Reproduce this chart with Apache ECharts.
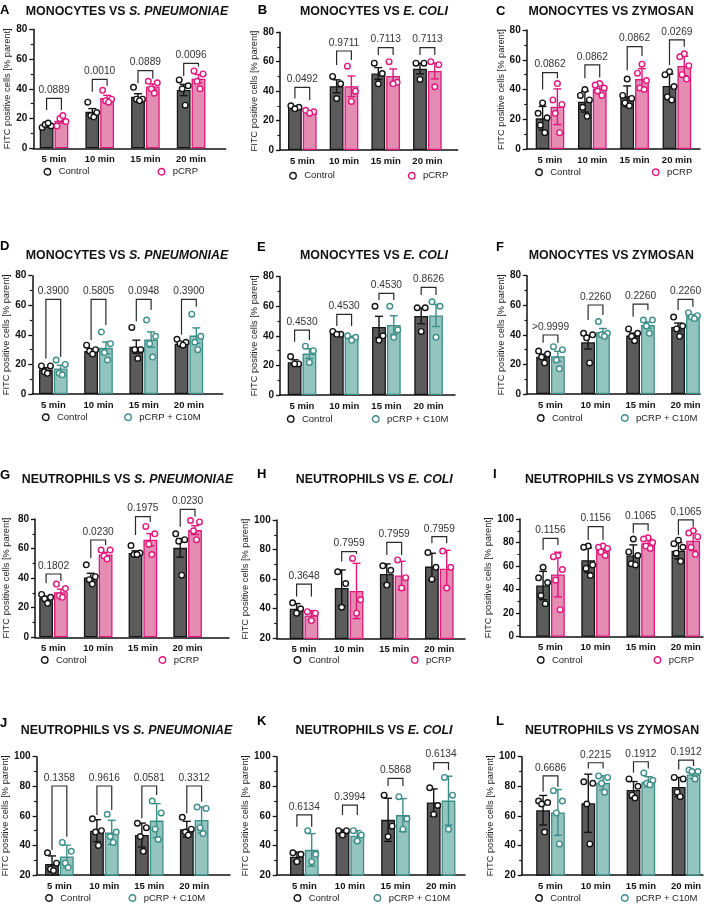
<!DOCTYPE html>
<html><head><meta charset="utf-8">
<script src="https://cdn.jsdelivr.net/npm/echarts@6/dist/echarts.min.js"></script>
<style>html,body{margin:0;padding:0;background:#fff;}#c{width:709px;height:908px;}</style>
</head><body><div id="c"></div>
<script>
const categories = ['5 min', '10 min', '15 min', '20 min'];

// ---- Panel A: Monocytes vs S. pneumoniae (pCRP) ----
const aCtrlPts = [[14,15,16,17],[31,24,22,21],[41,33,33,32],[46,42,40,29]];
const aCtrlMean = [15.2, 24.5, 34.7, 39.2];
const aCtrlErr = [0.8, 2.2, 2.0, 3.8];
const aTrtPts = [[15,18,20,22],[39,33,32,31],[45,44,40,37],[52,50,45,40]];
const aTrtMean = [18.5, 33.8, 41.5, 46.8];
const aTrtErr = [1.5, 1.8, 1.8, 2.8];
const aP = ['0.0889','0.0010','0.0889','0.0096'];
const aBrTop = [33.6, 46.4, 52.2, 57.1];
const aBrLeft = [25.8, 38, 43.7, 48.6];
const aBrRight = [25.8, 42, 47, 55];

// ---- Panel B: Monocytes vs E. coli (pCRP) ----
const bCtrlPts = [[30,29,28],[50,45,35],[59,52,45],[59,59,48]];
const bCtrlMean = [29, 43.3, 52, 55.3];
const bCtrlErr = [0.6, 4.4, 4.0, 3.6];
const bTrtPts = [[27,26,25],[57,40,33],[60,46,45],[60,58,43]];
const bTrtMean = [26, 43.3, 50.3, 53.7];
const bTrtErr = [0.6, 7, 4.8, 5.4];
const bP = ['0.0492','0.9711','0.7113','0.7113'];
const bBrTop = [42.6, 67.3, 69.6, 69.6];
const bBrLeft = [35, 57.8, 64.6, 64.6];
const bBrRight = [34, 61.2, 64.6, 64.6];

// ---- Panel C: Monocytes vs Zymosan (pCRP) ----
const cCtrlPts = [[31,24,21,16,11],[40,36,33,28,22],[47,36,34,31,29],[52,50,42,35,33]];
const cCtrlMean = [20.6, 31.8, 35.4, 42.4];
const cCtrlErr = [8, 7, 7, 8];
const cTrtPts = [[44,33,30,24,11],[44,43,41,39,36],[57,51,46,41,40],[64,62,56,50,47]];
const cTrtMean = [28.4, 40.6, 47, 55.8];
const cTrtErr = [12, 3, 7, 6.5];
const cP = ['0.0862','0.0862','0.0862','0.0269'];
const cBrTop = [51.3, 56.5, 68.8, 73.3];
const cBrLeft = [40, 47.5, 53, 56.5];
const cBrRight = [47.5, 48, 62.5, 68.8];

// ---- Panel D: Monocytes vs S. pneumoniae (pCRP + C10M) ----
const dCtrlPts = [[19,19,15,14],[33,30,29,27],[45,30,30,24],[37,35,34,33]];
const dCtrlMean = [16.5, 29, 32, 34];
const dCtrlErr = [1.3, 1.3, 4.4, 0.9];
const dTrtPts = [[23,20,14,13],[42,34,28,23],[50,39,34,25],[54,39,35,30]];
const dTrtMean = [17.2, 31.2, 36.8, 39.5];
const dTrtErr = [2.3, 4, 5.2, 5.2];
const dP = ['0.3900','0.5805','0.0948','0.3900'];
const dBrTop = [64, 64, 64, 64];
const dBrLeft = [24, 36.5, 49, 40];
const dBrRight = [25, 46.6, 56.8, 59];

// ---- Panel E: Monocytes vs E. coli (pCRP + C10M) ----
const eCtrlPts = [[26,21,21],[43,41,41],[60,40,37],[59,59,43]];
const eCtrlMean = [22.2, 41.5, 46, 53.5];
const eCtrlErr = [1.6, 0.7, 7.2, 5.3];
const eTrtPts = [[33,30,22],[40,39,37],[60,44,39],[63,60,39]];
const eTrtMean = [28, 38.8, 47.3, 53.8];
const eTrtErr = [3.3, 0.9, 6.3, 7.5];
const eP = ['0.4530','0.4530','0.4530','0.8626'];
const eBrTop = [43.9, 54.5, 68.7, 72.8];
const eBrLeft = [36, 46.6, 64.2, 67.6];
const eBrRight = [37.2, 46.6, 64.2, 67.6];

// ---- Panel F: Monocytes vs Zymosan (pCRP + C10M) ----
const fCtrlPts = [[29,27,25,21],[41,40,38,21],[44,41,39,36],[52,46,44,39]];
const fCtrlMean = [25.2, 35, 39.5, 45.3];
const fCtrlErr = [1.7, 4.6, 1.7, 2.7];
const fTrtPts = [[32,30,23,17],[49,41,40,39],[50,50,46,41],[55,53,52,51]];
const fTrtMean = [25.5, 42, 46.6, 52.5];
const fTrtErr = [3.4, 2.3, 2.1, 0.9];
const fP = ['>0.9999','0.2260','0.2260','0.2260'];
const fBrTop = [39.9, 60.2, 60.8, 64];
const fBrLeft = [34.7, 50, 52.3, 56.8];
const fBrRight = [34.7, 53.4, 56.8, 59];

// ---- Panel G: Neutrophils vs S. pneumoniae (pCRP) ----
const gCtrlPts = [[29,27,26,23],[49,41,39,36],[62,57,56,56],[70,66,65,42]];
const gCtrlMean = [26.5, 40.5, 57, 60.5];
const gCtrlErr = [1.2, 2.8, 1.5, 6.3];
const gTrtPts = [[36,33,28,27],[59,59,55,53],[75,70,63,56],[79,78,72,66]];
const gTrtMean = [30.5, 56, 66, 72.5];
const gTrtErr = [2.1, 1.5, 4.1, 3];
const gP = ['0.1802','0.0230','0.1975','0.0230'];
const gBrTop = [42.8, 65.8, 81.6, 86.5];
const gBrLeft = [36.5, 53.4, 69.2, 74.8];
const gBrRight = [38, 62.4, 78.2, 81.6];

// ---- Panel H: Neutrophils vs E. coli (pCRP) ----
const hCtrlPts = [[44,40,37],[65,57,41],[69,66,56],[78,68,60]];
const hCtrlMean = [40, 54, 63.5, 68.5];
const hCtrlErr = [3.5, 12.2, 6.8, 9];
const hTrtPts = [[38,37,32],[74,46,37],[73,61,54],[79,68,54]];
const hTrtMean = [35.5, 52, 62.5, 67];
const hTrtErr = [3.2, 18.7, 9.6, 12.5];
const hP = ['0.3648','0.7959','0.7959','0.7959'];
const hBrTop = [56.7, 78.6, 84.9, 88.7];
const hBrLeft = [48.2, 72, 76.3, 84.2];
const hBrRight = [48.2, 77, 76.3, 84.2];

// ---- Panel I: Neutrophils vs Zymosan (pCRP) ----
const iCtrlPts = [[59,50,46,35,28],[77,76,61,58,52],[83,72,69,62,61],[82,79,76,71,64]];
const iCtrlMean = [43.5, 65, 69, 73];
const iCtrlErr = [12, 10.5, 9, 7];
const iTrtPts = [[69,68,57,48,23],[77,76,75,72,69],[84,83,80,77,75],[90,88,85,76,70]];
const iTrtMean = [52.8, 73.8, 79.5, 81.5];
const iTrtErr = [19, 3, 3.8, 8.3];
const iP = ['0.1156','0.1156','0.1065','0.1065'];
const iBrTop = [83.6, 93.5, 95.8, 99.2];
const iBrLeft = [73.7, 82.2, 87.8, 86.4];
const iBrRight = [77.9, 82.2, 90, 93.5];

// ---- Panel J: Neutrophils vs S. pneumoniae (pCRP + C10M) ----
const jCtrlPts = [[35,28,24,23],[58,50,49,40],[55,52,46,36],[59,51,49,47]];
const jCtrlMean = [27.5, 50, 47, 51];
const jCtrlErr = [5.4, 7.4, 8.1, 5.3];
const jTrtPts = [[42,36,28,25],[61,49,46,42],[70,62,51,44],[66,65,52,48]];
const jTrtMean = [32.5, 48.8, 56.8, 57.2];
const jTrtErr = [7.7, 8.2, 11.5, 8.8];
const jP = ['0.1358','0.9616','0.0581','0.3312'];
const jBrTop = [80.2, 80.2, 80.2, 80.2];
const jBrLeft = [36.9, 60.6, 58.3, 61.7];
const jBrRight = [45.9, 63.9, 74.1, 69.6];

// ---- Panel K: Neutrophils vs E. coli (pCRP + C10M) ----
const kCtrlPts = [[35,34,29],[50,50,47],[74,53,46],[79,67,61]];
const kCtrlMean = [32.3, 48.8, 57.3, 69];
const kCtrlErr = [3.2, 1.7, 14.6, 9.2];
const kTrtPts = [[50,34,29],[50,47,43],[73,58,51],[86,74,51]];
const kTrtMean = [37, 46.5, 60.5, 70.3];
const kTrtErr = [11, 3.5, 11.2, 16.5];
const kP = ['0.6134','0.3994','0.5868','0.6134'];
const kBrTop = [60.6, 67.3, 85.4, 96];
const kBrLeft = [52.7, 60.6, 80.2, 91];
const kBrRight = [52.7, 60.6, 80.2, 91];

// ---- Panel L: Neutrophils vs Zymosan (pCRP + C10M) ----
const lCtrlPts = [[70,69,68,49],[83,82,68,41],[85,80,74,72],[86,85,76,73]];
const lCtrlMean = [63.8, 68.5, 77.5, 79.5];
const lCtrlErr = [10, 19.7, 5.7, 6.5];
const lTrtPts = [[77,70,62,41],[87,86,82,76],[89,84,82,81],[91,90,90,85]];
const lTrtMean = [62.3, 82.3, 83, 88];
const lTrtErr = [15.5, 4.8, 3.5, 2.8];
const lP = ['0.6686','0.2215','0.1912','0.1912'];
const lBrTop = [87, 95.9, 96.6, 97.7];
const lBrLeft = [76.3, 92.1, 89.2, 91.4];
const lBrRight = [79.7, 92.1, 92.1, 93.7];

// axis ranges
const yMins = [0, 0, 0, 0, 0, 0, 0, 20, 0, 20, 20, 20];
const yMaxs = [80, 80, 80, 80, 80, 80, 80, 100, 100, 100, 100, 100];

const FONT = "'Liberation Sans', Arial, Helvetica, sans-serif";
const CTRL_FILL = '#5b5b5b', CTRL_LINE = '#141414';
const PINK_FILL = '#e48cb1', PINK_LINE = '#e2167c';
const TEAL_FILL = '#94c4be', TEAL_LINE = '#3d8d88';

const panels = [
  {id:'A', cell:'MONOCYTES', ital:'S. PNEUMONIAE', plain:'', trt:'pCRP', cp:aCtrlPts, cm:aCtrlMean, ce:aCtrlErr, tp:aTrtPts, tm:aTrtMean, te:aTrtErr, p:aP, bt:aBrTop, bl:aBrLeft, br:aBrRight},
  {id:'B', cell:'MONOCYTES', ital:'E. COLI', plain:'', trt:'pCRP', cp:bCtrlPts, cm:bCtrlMean, ce:bCtrlErr, tp:bTrtPts, tm:bTrtMean, te:bTrtErr, p:bP, bt:bBrTop, bl:bBrLeft, br:bBrRight},
  {id:'C', cell:'MONOCYTES', ital:'', plain:'ZYMOSAN', trt:'pCRP', cp:cCtrlPts, cm:cCtrlMean, ce:cCtrlErr, tp:cTrtPts, tm:cTrtMean, te:cTrtErr, p:cP, bt:cBrTop, bl:cBrLeft, br:cBrRight},
  {id:'D', cell:'MONOCYTES', ital:'S. PNEUMONIAE', plain:'', trt:'pCRP + C10M', cp:dCtrlPts, cm:dCtrlMean, ce:dCtrlErr, tp:dTrtPts, tm:dTrtMean, te:dTrtErr, p:dP, bt:dBrTop, bl:dBrLeft, br:dBrRight},
  {id:'E', cell:'MONOCYTES', ital:'E. COLI', plain:'', trt:'pCRP + C10M', cp:eCtrlPts, cm:eCtrlMean, ce:eCtrlErr, tp:eTrtPts, tm:eTrtMean, te:eTrtErr, p:eP, bt:eBrTop, bl:eBrLeft, br:eBrRight},
  {id:'F', cell:'MONOCYTES', ital:'', plain:'ZYMOSAN', trt:'pCRP + C10M', cp:fCtrlPts, cm:fCtrlMean, ce:fCtrlErr, tp:fTrtPts, tm:fTrtMean, te:fTrtErr, p:fP, bt:fBrTop, bl:fBrLeft, br:fBrRight},
  {id:'G', cell:'NEUTROPHILS', ital:'S. PNEUMONIAE', plain:'', trt:'pCRP', cp:gCtrlPts, cm:gCtrlMean, ce:gCtrlErr, tp:gTrtPts, tm:gTrtMean, te:gTrtErr, p:gP, bt:gBrTop, bl:gBrLeft, br:gBrRight},
  {id:'H', cell:'NEUTROPHILS', ital:'E. COLI', plain:'', trt:'pCRP', cp:hCtrlPts, cm:hCtrlMean, ce:hCtrlErr, tp:hTrtPts, tm:hTrtMean, te:hTrtErr, p:hP, bt:hBrTop, bl:hBrLeft, br:hBrRight},
  {id:'I', cell:'NEUTROPHILS', ital:'', plain:'ZYMOSAN', trt:'pCRP', cp:iCtrlPts, cm:iCtrlMean, ce:iCtrlErr, tp:iTrtPts, tm:iTrtMean, te:iTrtErr, p:iP, bt:iBrTop, bl:iBrLeft, br:iBrRight},
  {id:'J', cell:'NEUTROPHILS', ital:'S. PNEUMONIAE', plain:'', trt:'pCRP + C10M', cp:jCtrlPts, cm:jCtrlMean, ce:jCtrlErr, tp:jTrtPts, tm:jTrtMean, te:jTrtErr, p:jP, bt:jBrTop, bl:jBrLeft, br:jBrRight},
  {id:'K', cell:'NEUTROPHILS', ital:'E. COLI', plain:'', trt:'pCRP + C10M', cp:kCtrlPts, cm:kCtrlMean, ce:kCtrlErr, tp:kTrtPts, tm:kTrtMean, te:kTrtErr, p:kP, bt:kBrTop, bl:kBrLeft, br:kBrRight},
  {id:'L', cell:'NEUTROPHILS', ital:'', plain:'ZYMOSAN', trt:'pCRP + C10M', cp:lCtrlPts, cm:lCtrlMean, ce:lCtrlErr, tp:lTrtPts, tm:lTrtMean, te:lTrtErr, p:lP, bt:lBrTop, bl:lBrLeft, br:lBrRight}
];

// layout (pixels): axis extents, first-group centre, group spacing, label/legend spots
const layout = {
  A:{axL:33.3, axR:225.7, c0:54,    sp:45.7, yT:29.3,  yB:148.3, gap:21,   tx:127,   ty:13.3,  lx:4,     ly:12,    legY:172.7, legC:46.7,  legT:160.7},
  B:{axL:280,  axR:457.7, c0:302.3, sp:41.7, yT:32.3,  yB:150,   gap:17,   tx:374,   ty:12.7,  lx:261.7, ly:12,    legY:176.7, legC:292.3, legT:411},
  C:{axL:526.7,axR:700,   c0:550,   sp:42.3, yT:30,    yB:149,   gap:19,   tx:611,   ty:13.3,  lx:500,   ly:13,    legY:173.3, legC:538.3, legT:655},
  D:{axL:32.3, axR:222.7, c0:53.3,  sp:45.2, yT:275.7, yB:394,   gap:21,   tx:127,   ty:256.7, lx:4,     ly:248,   legY:418.3, legC:45,    legT:127.3},
  E:{axL:280,  axR:455,   c0:302,   sp:42.2, yT:276.7, yB:395,   gap:17,   tx:374,   ty:256.7, lx:261,   ly:249,   legY:420,   legC:290,   legT:375},
  F:{axL:527,  axR:700,   c0:550.5, sp:45,   yT:275.7, yB:394,   gap:19,   tx:611.3, ty:256.7, lx:500,   ly:249,   legY:419,   legC:540,   legT:624},
  G:{axL:35,   axR:229,   c0:53.5,  sp:44.7, yT:519,   yB:637.3, gap:24.5, tx:127.5, ty:480.7, lx:4,     ly:476.7, legY:661,   legC:44,    legT:161.7},
  H:{axL:276.7,axR:465,   c0:304,   sp:45.1, yT:520,   yB:638.3, gap:18,   tx:374.3, ty:480.7, lx:261,   ly:476,   legY:661,   legC:296.7, legT:414},
  I:{axL:520,  axR:703,   c0:550.5, sp:45.1, yT:519,   yB:636.7, gap:16.5, tx:612,   ty:480.7, lx:497,   ly:476,   legY:661,   legC:540,   legT:656.7},
  J:{axL:35,   axR:230,   c0:58,    sp:45.3, yT:756.7, yB:875,   gap:24.5, tx:126.5, ty:731.7, lx:4,     ly:725,   legY:899,   legC:48.3,  legT:131.7},
  K:{axL:276.7,axR:465,   c0:304.3, sp:45.6, yT:756.7, yB:875,   gap:18.5, tx:374,   ty:731.7, lx:261,   ly:723,   legY:899,   legC:296.7, legT:376.7},
  L:{axL:521.7,axR:703,   c0:550.5, sp:45.2, yT:756.7, yB:875,   gap:19,   tx:612,   ty:731.7, lx:500,   ly:723,   legY:899,   legC:538.3, legT:624}
};

const BW = 13.8, GAP = 1;
const OFF = (BW + GAP) / 2;
const JIT = {3:[-4,4,0], 4:[-4.5,4.5,-1.5,1.5], 5:[0,-4.5,4.5,-2.2,2.2]};

function errRender(off, color) {
  return function (params, api) {
    const x = api.value(0), m = api.value(1), e = api.value(2);
    const c = api.coord([x, m]);
    const t = api.coord([x, m + e]);
    const b = api.coord([x, m - e]);
    const cx = c[0] + off, cap = 4;
    const st = () => ({stroke: color, lineWidth: 1.4});
    return {type:'group', children:[
      {type:'line', shape:{x1:cx, y1:t[1], x2:cx, y2:b[1]}, style:st()},
      {type:'line', shape:{x1:cx-cap, y1:t[1], x2:cx+cap, y2:t[1]}, style:st()},
      {type:'line', shape:{x1:cx-cap, y1:b[1], x2:cx+cap, y2:b[1]}, style:st()}
    ]};
  };
}
function ptsRender(off, color) {
  return function (params, api) {
    const x = api.value(0), v = api.value(1), j = api.value(2), n = api.value(3);
    const c = api.coord([x, v]);
    return {type:'circle', shape:{cx:c[0] + off + JIT[n][j], cy:c[1], r:2.8},
      style:{fill:'#fff', stroke:color, lineWidth:1.4}};
  };
}
function brRender(labels) {
  return function (params, api) {
    const x = api.value(0);
    const t = api.coord([x, api.value(1)]);
    const l = api.coord([x, api.value(2)]);
    const r = api.coord([x, api.value(3)]);
    const xl = t[0] - OFF, xr = t[0] + OFF;
    return {type:'group', children:[
      {type:'polyline', shape:{points:[[xl, l[1]], [xl, t[1]], [xr, t[1]], [xr, r[1]]]},
        style:{stroke:'#2a2a2a', lineWidth:1.2, fill:null}},
      {type:'text', style:{text:labels[params.dataIndex], x:t[0], y:t[1] - 3, align:'center',
        verticalAlign:'bottom', fontSize:10.2, fontFamily:FONT, fill:'#333'}}
    ]};
  };
}

const grid = [], xAxis = [], yAxis = [], series = [], title = [], legend = [];
panels.forEach((p, i) => {
  const L = layout[p.id];
  const teal = p.trt !== 'pCRP';
  const tFill = teal ? TEAL_FILL : PINK_FILL, tLine = teal ? TEAL_LINE : PINK_LINE;
  grid.push({left:L.axL, top:L.yT, width:L.axR - L.axL, height:L.yB - L.yT});
  xAxis.push({type:'value', gridIndex:i, min:(L.axL - L.c0) / L.sp, max:(L.axR - L.c0) / L.sp,
    axisLine:{show:true, onZero:false, lineStyle:{color:'#111', width:1.5}},
    axisTick:{show:false}, splitLine:{show:false},
    axisLabel:{customValues:[0,1,2,3], margin:6, fontSize:9.5, fontWeight:'bold', color:'#111', fontFamily:FONT,
      formatter:(v) => (Math.abs(v - Math.round(v)) < 1e-6 && categories[Math.round(v)]) || ''}});
  yAxis.push({type:'value', gridIndex:i, min:yMins[i], max:yMaxs[i], interval:20,
    axisLine:{show:true, onZero:false, lineStyle:{color:'#111', width:1.5}},
    axisTick:{show:true, length:4, lineStyle:{color:'#111', width:1.3}},
    minorTick:{show:true, splitNumber:2, length:2.5, lineStyle:{color:'#111', width:1.2}},
    splitLine:{show:false}, minorSplitLine:{show:false},
    axisLabel:{margin:6, fontSize:10, fontWeight:'bold', color:'#111', fontFamily:FONT},
    name:'FITC positive cells [% parent]', nameLocation:'middle', nameGap:L.gap,
    nameTextStyle:{fontSize:9.3, color:'#222', fontFamily:FONT}});

  series.push({type:'bar', name:'Control', xAxisIndex:i, yAxisIndex:i, barWidth:BW, barGap:(GAP / BW * 100) + '%',
    data:p.cm.map((v, k) => [k, v]), itemStyle:{color:CTRL_FILL, borderColor:CTRL_LINE, borderWidth:1.3}, z:2, silent:true});
  series.push({type:'bar', name:p.trt, xAxisIndex:i, yAxisIndex:i, barWidth:BW, barGap:(GAP / BW * 100) + '%',
    data:p.tm.map((v, k) => [k, v]), itemStyle:{color:tFill, borderColor:tLine, borderWidth:1.3}, z:2, silent:true});
  series.push({type:'custom', name:'err-c' + i, xAxisIndex:i, yAxisIndex:i, clip:false, z:3, silent:true,
    data:p.cm.map((v, k) => [k, v, p.ce[k]]), renderItem:errRender(-OFF, CTRL_LINE)});
  series.push({type:'custom', name:'err-t' + i, xAxisIndex:i, yAxisIndex:i, clip:false, z:3, silent:true,
    data:p.tm.map((v, k) => [k, v, p.te[k]]), renderItem:errRender(OFF, tLine)});
  series.push({type:'custom', name:'pts-c' + i, xAxisIndex:i, yAxisIndex:i, clip:false, z:4, silent:true,
    data:p.cp.flatMap((arr, k) => arr.map((v, j) => [k, v, j, arr.length])), renderItem:ptsRender(-OFF, CTRL_LINE)});
  series.push({type:'custom', name:'pts-t' + i, xAxisIndex:i, yAxisIndex:i, clip:false, z:4, silent:true,
    data:p.tp.flatMap((arr, k) => arr.map((v, j) => [k, v, j, arr.length])), renderItem:ptsRender(OFF, tLine)});
  series.push({type:'custom', name:'br' + i, xAxisIndex:i, yAxisIndex:i, clip:false, z:5, silent:true,
    data:p.bt.map((v, k) => [k, v, p.bl[k], p.br[k]]), renderItem:brRender(p.p)});

  const txt = p.cell + ' VS ' + (p.ital ? '{i|' + p.ital + '}' : p.plain);
  title.push({text:txt, left:L.tx, top:L.ty - 7.5, textAlign:'center', padding:0,
    textStyle:{fontFamily:FONT, fontSize:12.4, fontWeight:'bold', color:'#111',
      rich:{i:{fontFamily:FONT, fontSize:12.4, fontWeight:'bold', fontStyle:'italic', color:'#111'}}}});
  title.push({text:p.id, left:L.lx - 4, top:L.ly - 8, padding:0,
    textStyle:{fontFamily:FONT, fontSize:13, fontWeight:'bold', color:'#000'}});

  const legBase = {padding:0, itemWidth:6.5, itemHeight:6.5, selectedMode:false, orient:'horizontal',
    textStyle:{fontFamily:FONT, fontSize:9.5, color:'#222', padding:[0,0,0,3]}};
  legend.push(Object.assign({}, legBase, {left:L.legC - 3.25, top:L.legY - 6,
    data:[{name:'Control', icon:'circle', itemStyle:{color:'#fff', borderColor:CTRL_LINE, borderWidth:1.4}}]}));
  legend.push(Object.assign({}, legBase, {left:L.legT - 3.25, top:L.legY - 6,
    data:[{name:p.trt, icon:'circle', itemStyle:{color:'#fff', borderColor:tLine, borderWidth:1.4}}]}));
});

const chart = echarts.init(document.getElementById('c'));
chart.setOption({animation:false, backgroundColor:'#fff', grid, xAxis, yAxis, series, title, legend});
</script></body></html>
